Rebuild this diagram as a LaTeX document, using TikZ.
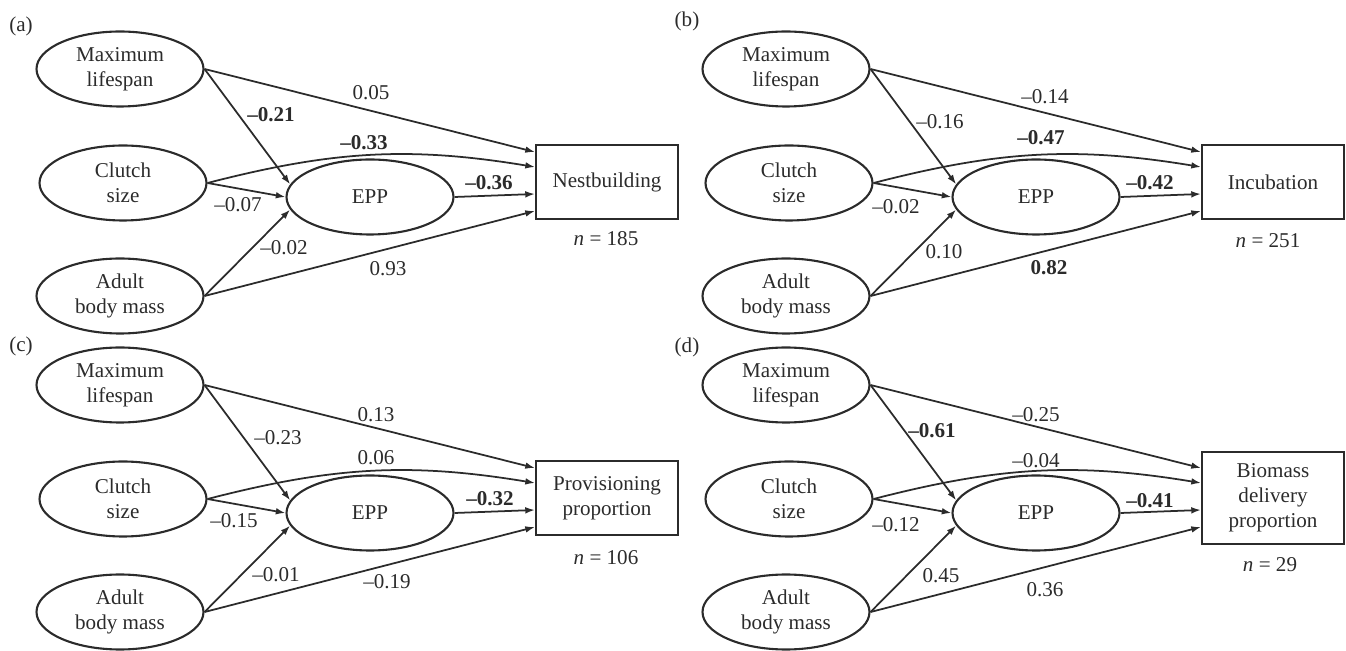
\documentclass[tikz,border=0pt]{standalone}
\usepackage{fontspec}
\setmainfont{Liberation Serif}
\usetikzlibrary{shapes.geometric,arrows.meta,calc}
\definecolor{ink}{gray}{0.17}
\tikzset{
  txt/.style={text=ink, font=\fontsize{12}{14.2}\selectfont},
  var/.style={txt, ellipse, draw=ink, line width=1.2pt, minimum width=3.34cm,
    minimum height=1.5cm, inner sep=0pt, align=center},
  outc/.style={txt, rectangle, draw=ink, line width=1.2pt, minimum width=2.84cm,
    inner sep=0pt, align=center},
  arr/.style={draw=ink, line width=1pt, -{Latex[length=5.5pt,width=3.8pt]}},
  lab/.style={txt, inner sep=0pt},
  blab/.style={txt, inner sep=0pt, font=\fontsize{12}{14.2}\selectfont\bfseries},
}
\newcommand\sempanel[4]{%
\begin{scope}[shift={#2}]
  \node[var] (#1max) at (120,69) {Maximum\\lifespan};
  \node[var] (#1cl) at (123,183) {Clutch\\size};
  \node[var] (#1ad) at (120,296) {Adult\\body mass};
  \node[var] (#1epp) at (370,197) {EPP};
  \node[outc, minimum height=#4] (#1box) at (607,182) {#3};
  \coordinate (#1i1) at ($(#1box.west)+(0,-30)$);
  \coordinate (#1i2) at ($(#1box.west)+(0,-15)$);
  \coordinate (#1i3) at ($(#1box.west)+(0,12)$);
  \coordinate (#1i4) at ($(#1box.west)+(0,29)$);
  \draw[arr] (#1max.east) -- (#1i1);
  \draw[arr] (#1max.east) -- (#1epp.171);
  \draw[arr] (#1cl.east) .. controls +(124,-32) and +(-127,-21) .. (#1i2);
  \draw[arr] (#1cl.east) -- (#1epp.west);
  \draw[arr] (#1epp.east) -- (#1i3);
  \draw[arr] (#1ad.east) -- (#1epp.189);
  \draw[arr] (#1ad.east) -- (#1i4);
\end{scope}}
\begin{document}
\begin{tikzpicture}[x=0.02cm,y=-0.02cm]
\useasboundingbox (0,0) rectangle (1346,651);
% panel (a)
\sempanel{a}{(0,0)}{Nestbuilding}{1.48cm}
\node[lab] (la) at (21,26) {(a)};
\node[lab] at (371,93) {0.05};
\node[blab] at (271,115) {--0.21};
\node[blab] at (364,143) {--0.33};
\node[lab] at (238,205) {--0.07};
\node[blab] at (489,183) {--0.36};
\node[lab] at (284,248) {--0.02};
\node[lab] at (388,269) {0.93};
\node[lab] at (606,239) {\textit{n} = 185};
% panel (b)
\sempanel{b}{(666,0)}{Incubation}{1.48cm}
\node[lab] (lb) at (687,21) {(b)};
\node[lab] at (1045,97) {--0.14};
\node[lab] at (940,122) {--0.16};
\node[blab] at (1041,138) {--0.47};
\node[lab] at (896,207) {--0.02};
\node[blab] at (1150,183) {--0.42};
\node[lab] at (944,252) {0.10};
\node[blab] at (1049,268) {0.82};
\node[lab] at (1268,241) {\textit{n} = 251};
% panel (c)
\sempanel{c}{(0,316)}{Provisioning\\proportion}{1.48cm}
\node[lab] (lc) at (21,346) {(c)};
\node[lab] at (376,415) {0.13};
\node[lab] at (278,438) {--0.23};
\node[lab] at (376,458) {0.06};
\node[lab] at (234,521) {--0.15};
\node[blab] at (490,499) {--0.32};
\node[lab] at (276,575) {--0.01};
\node[lab] at (387,582) {--0.19};
\node[lab] at (606,558) {\textit{n} = 106};
% panel (d)
\sempanel{d}{(666,316)}{Biomass\\delivery\\proportion}{1.84cm}
\node[lab] (ld) at (687,347) {(d)};
\node[lab] at (1036,415) {--0.25};
\node[blab] at (932,431) {--0.61};
\node[lab] at (1036,461) {--0.04};
\node[lab] at (896,525) {--0.12};
\node[blab] at (1150,501) {--0.41};
\node[lab] at (941,576) {0.45};
\node[lab] at (1045,590) {0.36};
\node[lab] at (1270,565) {\textit{n} = 29};
\end{tikzpicture}
\end{document}
